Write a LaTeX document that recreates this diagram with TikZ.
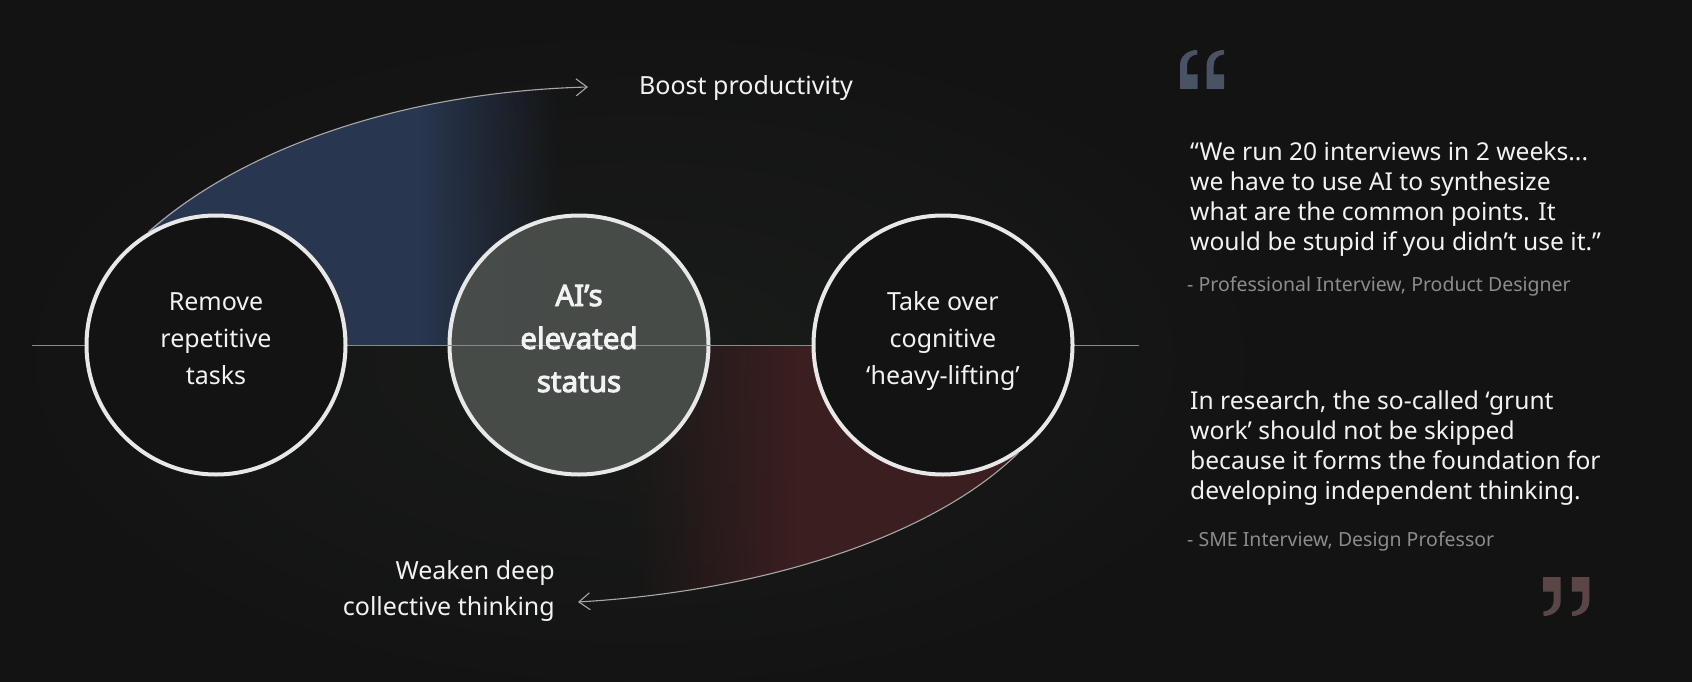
\documentclass[tikz,border=0pt]{standalone}
\usepackage{fontspec}
\setmainfont{Noto Sans}
\newfontfamily\heavyfont{Noto Sans}[FakeBold=3.2]
\usetikzlibrary{arrows.meta,fadings}
\definecolor{bgC}{HTML}{131313}
\definecolor{glowC}{HTML}{191C1A}
\definecolor{blueC}{HTML}{29364F}
\definecolor{redC}{HTML}{3B1E20}
\definecolor{midC}{HTML}{4A4F4C}
\definecolor{ringC}{HTML}{E8E8E8}
\definecolor{lineC}{HTML}{8A8A8A}
\definecolor{connC}{HTML}{A8A8A8}
\definecolor{txtC}{HTML}{F2F2F2}
\definecolor{attrC}{HTML}{8C8C8C}
\definecolor{qopenC}{HTML}{4A5366}
\definecolor{qcloseC}{HTML}{5A4647}
\begin{document}
\begin{tikzpicture}[x=1pt,y=-1pt,
  circ/.style={circle, draw=ringC, line width=4pt, minimum size=259pt, inner sep=0pt, fill=bgC},
  midcirc/.style={circle, draw=ringC, line width=4pt, minimum size=259pt, inner sep=0pt, fill=midC, fill opacity=0.93},
  ctext/.style={text=txtC, align=center, font=\fontsize{25}{37}\selectfont, inner sep=0pt, anchor=base},
  btext/.style={text=txtC, align=center, font=\heavyfont\fontsize{29.5}{43}\selectfont, inner sep=0pt, anchor=base},
  qtext/.style={text=txtC, align=left, font=\fontsize{24.6}{30}\selectfont, inner sep=0pt, anchor=base west},
  atext/.style={text=attrC, font=\fontsize{19.5}{24}\selectfont, inner sep=0pt, anchor=base west},
  conn/.style={draw=connC, line width=1.1pt, -{Straight Barb[length=11pt,width=17pt]}},
  hline/.style={draw=lineC, line width=1pt},
  qmark/.pic={\fill (0,39) -- (0,15) .. controls (0,6) and (8,0) .. (17,0) -- (17.5,4.3) .. controls (11,5) and (7,9) .. (7,15.7) -- (7,24.3) -- (17.5,24.3) -- (17.5,39) -- cycle;}
]
\useasboundingbox (0,0) rectangle (1692,682);
\fill[bgC] (0,0) rectangle (1692,682);
\shade[inner color=glowC, outer color=bgC] (640,360) ellipse [x radius=640, y radius=340];

% blue band
\begin{scope}
\clip (148,231) .. controls (240,150) and (400,92) .. (588,87) -- (588,345) -- (148,345) -- cycle;
\fill[blueC] (140,80) rectangle (420,350);
\fill[blueC, path fading=east] (420,80) rectangle (560,350);
\end{scope}

% red band
\begin{scope}
\clip (1018,452) .. controls (940,530) and (780,590) .. (578,602) -- (578,345) -- (1018,345) -- cycle;
\fill[redC, path fading=west] (630,340) rectangle (795,610);
\fill[redC] (795,340) rectangle (1030,610);
\end{scope}

% middle circle, then axis line, then outer circles
\node[midcirc] (c2) at (579,345) {};
\coordinate (lineL) at (32,345);
\coordinate (lineR) at (1139,345);
\draw[hline] (lineL) -- (lineR);
\node[circ] (c1) at (216,345) {};
\node[circ] (c3) at (943,345) {};

% circle texts (base = last line)
\node[ctext] (t1) at (216,384) {Remove\\repetitive\\tasks};
\node[btext] (t2) at (579,392) {AI’s\\elevated\\status};
\node[ctext] (t3) at (943,384) {Take over\\cognitive\\‘heavy-lifting’};

% connectors
\coordinate (boostTip) at (588,87);
\coordinate (weakTip) at (578,602);
\draw[conn] (c1.121) .. controls (240,150) and (400,92) .. (boostTip);
\draw[conn] (c3.-55) .. controls (940,530) and (780,590) .. (weakTip);

\node[text=txtC, font=\fontsize{25}{30}\selectfont, inner sep=0pt, anchor=base west] (boost) at (639,95) {Boost productivity};
\node[text=txtC, align=right, font=\fontsize{25}{36}\selectfont, inner sep=0pt, anchor=base east] (weak) at (555,615) {Weaken deep\\collective thinking};

% quotes
\node[qtext] (q1) at (1190,250) {“We run 20 interviews in 2 weeks...\\we have to use AI to synthesize\\what are the common points. It\\would be stupid if you didn’t use it.”};
\node[atext] (a1) at (1187,291) {- Professional Interview, Product Designer};
\node[qtext] (q2) at (1190,499) {In research, the so-called ‘grunt\\work’ should not be skipped\\because it forms the foundation for\\developing independent thinking.};
\node[atext] (a2) at (1187,546) {- SME Interview, Design Professor};

% quote marks
\pic[qopenC] at (1180,50) {qmark};
\pic[qopenC] at (1206.7,50) {qmark};
\pic[qcloseC, rotate=180] at (1560.7,616) {qmark};
\pic[qcloseC, rotate=180] at (1589.3,616) {qmark};
\end{tikzpicture}
\end{document}
